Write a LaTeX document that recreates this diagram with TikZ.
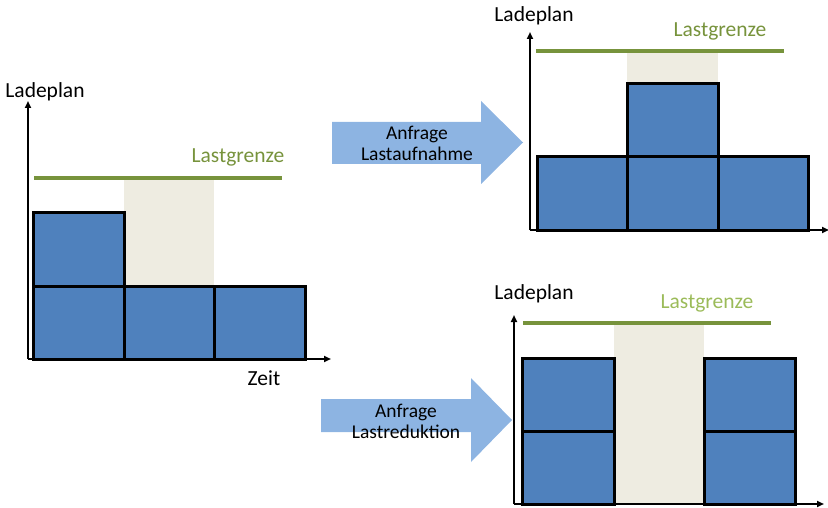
\documentclass[tikz,border=0pt]{standalone}
\usepackage{fontspec}
\setmainfont{Carlito}
\usetikzlibrary{arrows.meta}
\definecolor{boxblue}{HTML}{4F81BD}
\definecolor{limgreen}{HTML}{77933C}
\definecolor{limtext}{HTML}{77933C}
\definecolor{limtextlight}{HTML}{9BBB59}
\definecolor{freebeige}{HTML}{EEECE1}
\definecolor{arrowblue}{HTML}{8DB4E2}
\tikzset{
  axis/.style={line width=1.8pt,-{Triangle[length=7pt,width=6pt]}},
  blk/.style={fill=boxblue,draw=black,line width=3pt,line join=miter},
  limit/.style={draw=limgreen,line width=4pt},
  free/.style={fill=freebeige,draw=none},
  lbl/.style={font=\fontsize{21.5}{25}\selectfont,inner sep=0pt},
  arrtxt/.style={font=\fontsize{19.5}{21}\selectfont,align=center,inner sep=0pt},
  bigarrow/.style={fill=arrowblue,draw=none}
}
\begin{document}
\begin{tikzpicture}[x=1pt,y=-1pt]
\useasboundingbox (0,0) rectangle (828,508);
% ---------- left chart ----------
\fill[free] (124,178) rectangle (214,286);
\coordinate (lo) at (28,359);
\coordinate (ly) at (28,101);
\coordinate (lx) at (331,359);
\draw[axis] (lo) -- (ly);
\draw[axis] (lo) -- (lx);
\draw[blk] (33,286) rectangle (124,359);
\draw[blk] (124,286) rectangle (214,359);
\draw[blk] (214,286) rectangle (305,359);
\draw[blk] (33,213) rectangle (124,286);
\coordinate (lga) at (34,178);
\coordinate (lgb) at (282,178);
\draw[limit] (lga) -- (lgb);
\node[lbl,text=limtext] (llast) at (238,157) {Lastgrenze};
\node[lbl] (llade) at (45,92) {Ladeplan};
\node[lbl] (lzeit) at (264,378) {Zeit};
% ---------- top right chart ----------
\fill[free] (627,51) rectangle (718,84);
\coordinate (to) at (530,230);
\coordinate (ty) at (530,32);
\coordinate (tx) at (829,230);
\draw[axis] (to) -- (ty);
\draw[axis] (to) -- (tx);
\draw[blk] (537,157) rectangle (627,230);
\draw[blk] (627,157) rectangle (718,230);
\draw[blk] (718,157) rectangle (808,230);
\draw[blk] (627,84) rectangle (718,157);
\coordinate (tga) at (536,51);
\coordinate (tgb) at (784,51);
\draw[limit] (tga) -- (tgb);
\node[lbl,text=limtext] (tlast) at (720,31) {Lastgrenze};
\node[lbl] (tlade) at (534,16) {Ladeplan};
% ---------- bottom right chart ----------
\fill[free] (614,323) rectangle (704,504);
\coordinate (bo) at (514,504);
\coordinate (by) at (514,315);
\coordinate (bx) at (824,504);
\draw[axis] (bo) -- (by);
\draw[axis] (bo) -- (bx);
\draw[blk] (522,431) rectangle (614,504);
\draw[blk] (522,358) rectangle (614,431);
\draw[blk] (704,431) rectangle (795,504);
\draw[blk] (704,358) rectangle (795,431);
\coordinate (bga) at (523,323);
\coordinate (bgb) at (771,323);
\draw[limit] (bga) -- (bgb);
\node[lbl,text=limtextlight] (blast) at (707,303) {Lastgrenze};
\node[lbl] (blade) at (534,294) {Ladeplan};
% ---------- block arrows ----------
\fill[bigarrow] (332,122) -- (481,122) -- (481,101) -- (523,142.5) -- (481,184) -- (481,164) -- (332,164) -- cycle;
\node[arrtxt] (a1) at (417,143.5) {Anfrage\\Lastaufnahme};
\fill[bigarrow] (321,399) -- (471,399) -- (471,378) -- (512,420) -- (471,462) -- (471,432) -- (321,432) -- cycle;
\node[arrtxt] (a2) at (406,421) {Anfrage\\Lastreduktion};
\end{tikzpicture}
\end{document}
